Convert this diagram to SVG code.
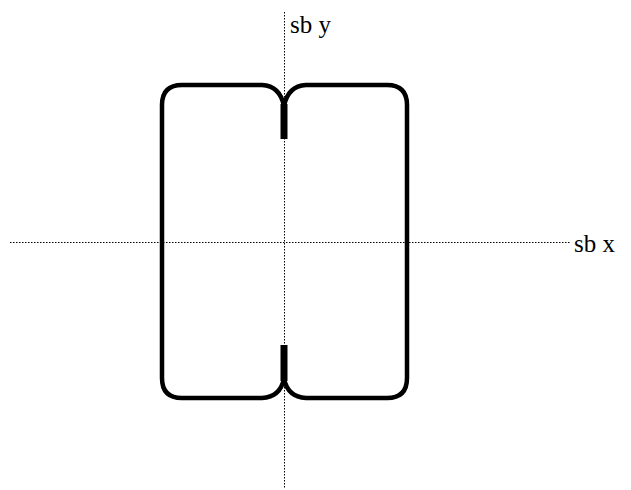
<svg xmlns="http://www.w3.org/2000/svg" width="631" height="490" viewBox="0 0 631 490">
<style>
.axis{stroke:#000;stroke-width:1;stroke-dasharray:1.5 1.5;fill:none}
.shape{stroke:#000;stroke-width:4.5;fill:none;stroke-linejoin:round}
.bar{stroke:#000;stroke-width:7;fill:none}
.lbl{font-family:"Liberation Serif",serif;font-size:25px;fill:#000}
</style>
<rect width="631" height="490" fill="#fff"/>
<g id="axes">
<line class="axis" x1="284.5" y1="12" x2="284.5" y2="488"/>
<line class="axis" x1="10" y1="242.5" x2="571" y2="242.5"/>
</g>
<g id="shape">
<path class="shape" d="M284 106 Q280 86 262 85 L182 85 Q162 85 162 105 L162 378 Q162 398 182 398 L262 398 Q280 397 284 379 Q288 397 306 398 L387 398 Q407 398 407 378 L407 105 Q407 85 387 85 L306 85 Q288 86 284 106 Z"/>
<line class="bar" x1="284" y1="104" x2="284" y2="139"/>
<line class="bar" x1="284" y1="345" x2="284" y2="381"/>
</g>
<g id="labels">
<text class="lbl" x="290" y="33">sb y</text>
<text class="lbl" x="574" y="252">sb x</text>
</g>
</svg>
